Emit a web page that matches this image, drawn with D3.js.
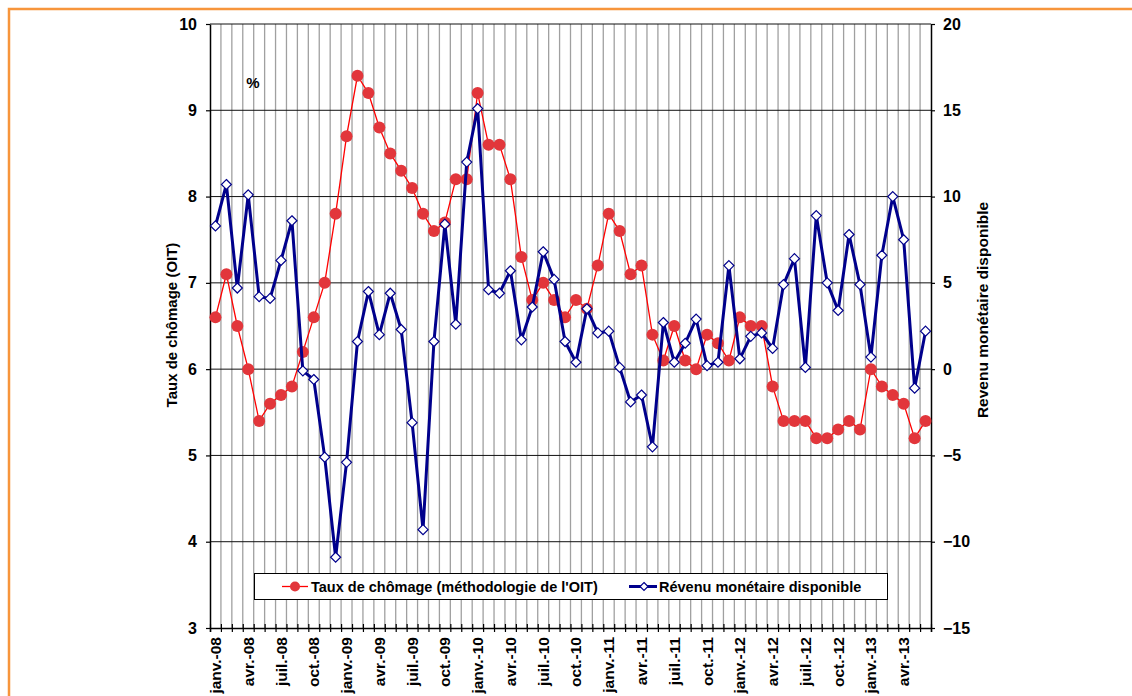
<!DOCTYPE html>
<html>
<head>
<meta charset="utf-8">
<script src="https://cdn.jsdelivr.net/npm/d3@7"></script>
<style>
    body { margin: 0; background: #fff; }
    svg text { font-family: "Liberation Sans", Arial, sans-serif; font-weight: bold; fill: #000; }
</style>
</head>
<body>
<div id="chart"></div>
<script>
//Données
let months = [
    "janv.-08","févr.-08","mars-08","avr.-08","mai-08","juin-08","juil.-08","août-08","sept.-08","oct.-08","nov.-08","déc.-08",
    "janv.-09","févr.-09","mars-09","avr.-09","mai-09","juin-09","juil.-09","août-09","sept.-09","oct.-09","nov.-09","déc.-09",
    "janv.-10","févr.-10","mars-10","avr.-10","mai-10","juin-10","juil.-10","août-10","sept.-10","oct.-10","nov.-10","déc.-10",
    "janv.-11","févr.-11","mars-11","avr.-11","mai-11","juin-11","juil.-11","août-11","sept.-11","oct.-11","nov.-11","déc.-11",
    "janv.-12","févr.-12","mars-12","avr.-12","mai-12","juin-12","juil.-12","août-12","sept.-12","oct.-12","nov.-12","déc.-12",
    "janv.-13","févr.-13","mars-13","avr.-13","mai-13","juin-13"
];

let tickLabels = [
    "janv.-08","avr.-08","juil.-08","oct.-08","janv.-09","avr.-09","juil.-09","oct.-09",
    "janv.-10","avr.-10","juil.-10","oct.-10","janv.-11","avr.-11","juil.-11","oct.-11",
    "janv.-12","avr.-12","juil.-12","oct.-12","janv.-13","avr.-13"
];

//Taux de chômage (axe gauche, %)
let chomage = [
    6.6, 7.1, 6.5, 6.0, 5.4, 5.6, 5.7, 5.8, 6.2, 6.6, 7.0, 7.8,
    8.7, 9.4, 9.2, 8.8, 8.5, 8.3, 8.1, 7.8, 7.6, 7.7, 8.2, 8.2,
    9.2, 8.6, 8.6, 8.2, 7.3, 6.8, 7.0, 6.8, 6.6, 6.8, 6.7, 7.2,
    7.8, 7.6, 7.1, 7.2, 6.4, 6.1, 6.5, 6.1, 6.0, 6.4, 6.3, 6.1,
    6.6, 6.5, 6.5, 5.8, 5.4, 5.4, 5.4, 5.2, 5.2, 5.3, 5.4, 5.3,
    6.0, 5.8, 5.7, 5.6, 5.2, 5.4
];

//Revenu monétaire disponible (axe droit)
let revenu = [
    8.3, 10.7, 4.7, 10.1, 4.2, 4.1, 6.3, 8.6, -0.1, -0.6, -5.1, -10.9,
    -5.4, 1.6, 4.5, 2.0, 4.4, 2.3, -3.1, -9.3, 1.6, 8.4, 2.6, 12.0,
    15.1, 4.6, 4.4, 5.7, 1.7, 3.6, 6.8, 5.2, 1.6, 0.4, 3.5, 2.1,
    2.2, 0.1, -1.9, -1.5, -4.5, 2.7, 0.4, 1.5, 2.9, 0.2, 0.4, 6.0,
    0.6, 1.9, 2.1, 1.2, 4.9, 6.4, 0.1, 8.9, 5.0, 3.4, 7.8, 4.9,
    0.7, 6.6, 10.0, 7.5, -1.1, 2.2
];

let leftTicks = [3, 4, 5, 6, 7, 8, 9, 10];
let rightTicks = [-15, -10, -5, 0, 5, 10, 15, 20];

//Dimensions
let width = 1132, height = 696;
let margin = {left: 210, right: 1132 - 931, top: 24, bottom: 696 - 628};
let innerW = width - margin.left - margin.right;
let innerH = height - margin.top - margin.bottom;

let redColor = '#e2363b';
let blueColor = '#00008c';
let fontStack = '"Liberation Sans", Arial, sans-serif';

let svg = d3.select('#chart').append('svg')
    .attr('width', width)
    .attr('height', height);

//Cadre orange
svg.append('path')
    .attr('d', 'M9,' + height + 'V9H' + width)
    .attr('fill', 'none')
    .attr('stroke', '#f7953b')
    .attr('stroke-width', 2.5);

let g = svg.append('g').attr('transform', 'translate(' + margin.left + ',' + margin.top + ')');

//Echelles
let x = d3.scaleBand().domain(months).range([0, innerW]);
let xEdge = d3.scaleLinear().domain([0, months.length]).range([0, innerW]);
let yLeft = d3.scaleLinear().domain([3, 10]).range([innerH, 0]);
let yRight = d3.scaleLinear().domain([-15, 20]).range([innerH, 0]);

//Grille verticale
g.append('g')
    .selectAll('line')
    .data(d3.range(1, months.length))
    .enter()
    .append('line')
    .attr('x1', d => xEdge(d))
    .attr('x2', d => xEdge(d))
    .attr('y1', 0)
    .attr('y2', innerH)
    .attr('stroke', '#a0a0a0')
    .attr('stroke-width', 1.3);

//Grille horizontale
g.append('g')
    .selectAll('line')
    .data(leftTicks.slice(1))
    .enter()
    .append('line')
    .attr('x1', 0)
    .attr('x2', innerW)
    .attr('y1', d => yLeft(d))
    .attr('y2', d => yLeft(d))
    .attr('stroke', '#111')
    .attr('stroke-width', 1);

//Axe X
let xAxis = g.append('g')
    .attr('transform', 'translate(0,' + innerH + ')')
    .call(d3.axisBottom(xEdge).tickValues(d3.range(0, months.length + 1)).tickSize(4).tickFormat(''));
xAxis.selectAll('.tick line').attr('y1', -4).attr('stroke', '#000').attr('stroke-width', 1.2);
xAxis.select('.domain').attr('stroke', '#000').attr('stroke-width', 1.5);

g.append('g')
    .selectAll('text')
    .data(tickLabels)
    .enter()
    .append('text')
    .attr('transform', d => 'translate(' + (x(d) + x.bandwidth() / 2 + 5.5) + ',' + (innerH + 9) + ') rotate(-90)')
    .attr('text-anchor', 'end')
    .style('font-size', '15.5px')
    .text(d => d);

//Axe gauche
let leftAxis = g.append('g')
    .call(d3.axisLeft(yLeft).tickValues(leftTicks).tickFormat(d3.format('d')).tickSize(4).tickPadding(9).tickSizeOuter(0));
leftAxis.attr('font-size', null).attr('font-family', null);
leftAxis.selectAll('text').style('font-size', '16px').style('font-family', fontStack).style('font-weight', 'bold');
leftAxis.selectAll('.tick line').attr('stroke-width', 1.2);
leftAxis.select('.domain').attr('stroke-width', 1.5);

//Axe droit
let rightAxis = g.append('g')
    .attr('transform', 'translate(' + innerW + ',0)')
    .call(d3.axisRight(yRight).tickValues(rightTicks).tickFormat(d3.format('d')).tickSize(4).tickPadding(8).tickSizeOuter(0));
rightAxis.attr('font-size', null).attr('font-family', null);
rightAxis.selectAll('text').style('font-size', '16px').style('font-family', fontStack).style('font-weight', 'bold');
rightAxis.selectAll('.tick line').attr('stroke-width', 1.2);
rightAxis.select('.domain').attr('stroke-width', 1.5);

//Titres des axes
svg.append('text')
    .attr('transform', 'translate(177,325) rotate(-90)')
    .attr('text-anchor', 'middle')
    .style('font-size', '15px')
    .text('Taux de chômage (OIT)');

svg.append('text')
    .attr('transform', 'translate(988,310) rotate(-90)')
    .attr('text-anchor', 'middle')
    .style('font-size', '15.5px')
    .text('Revenu monétaire disponible');

svg.append('text')
    .attr('x', 253)
    .attr('y', 88)
    .attr('text-anchor', 'middle')
    .style('font-size', '15px')
    .text('%');

//Série chômage
let cx = (d, i) => x(months[i]) + x.bandwidth() / 2;

let lineChomage = d3.line()
    .x(cx)
    .y(d => yLeft(d));

g.append('path')
    .datum(chomage)
    .attr('d', lineChomage)
    .attr('fill', 'none')
    .attr('stroke', '#ff0000')
    .attr('stroke-width', 1.3);

g.append('g')
    .selectAll('circle')
    .data(chomage)
    .enter()
    .append('circle')
    .attr('cx', cx)
    .attr('cy', d => yLeft(d))
    .attr('r', 6)
    .attr('fill', redColor);

//Série revenu
let lineRevenu = d3.line()
    .x(cx)
    .y(d => yRight(d));

g.append('path')
    .datum(revenu)
    .attr('d', lineRevenu)
    .attr('fill', 'none')
    .attr('stroke', blueColor)
    .attr('stroke-width', 3)
    .attr('stroke-linejoin', 'round');

let diamond = 'M0,-5L5,0L0,5L-5,0Z';

g.append('g')
    .selectAll('path')
    .data(revenu)
    .enter()
    .append('path')
    .attr('transform', (d, i) => 'translate(' + cx(d, i) + ',' + yRight(d) + ')')
    .attr('d', diamond)
    .attr('fill', '#fff')
    .attr('stroke', blueColor)
    .attr('stroke-width', 1.2);

//Légende
let legend = svg.append('g');

legend.append('rect')
    .attr('x', 254.5)
    .attr('y', 573.5)
    .attr('width', 633)
    .attr('height', 26)
    .attr('fill', '#fff')
    .attr('stroke', '#000')
    .attr('stroke-width', 1);

legend.append('line')
    .attr('x1', 282).attr('x2', 308)
    .attr('y1', 586.5).attr('y2', 586.5)
    .attr('stroke', '#ff0000')
    .attr('stroke-width', 1.3);

legend.append('circle')
    .attr('cx', 295).attr('cy', 586.5)
    .attr('r', 5)
    .attr('fill', redColor);

legend.append('text')
    .attr('x', 311).attr('y', 592)
    .style('font-size', '14.5px')
    .text("Taux de chômage (méthodologie de l'OIT)");

legend.append('line')
    .attr('x1', 629).attr('x2', 657)
    .attr('y1', 586.5).attr('y2', 586.5)
    .attr('stroke', blueColor)
    .attr('stroke-width', 3);

legend.append('path')
    .attr('transform', 'translate(644,586.5)')
    .attr('d', 'M0,-4L4,0L0,4L-4,0Z')
    .attr('fill', '#fff')
    .attr('stroke', blueColor)
    .attr('stroke-width', 1.2);

legend.append('text')
    .attr('x', 659).attr('y', 592)
    .style('font-size', '14.5px')
    .text('Révenu monétaire disponible');
</script>
</body>
</html>
